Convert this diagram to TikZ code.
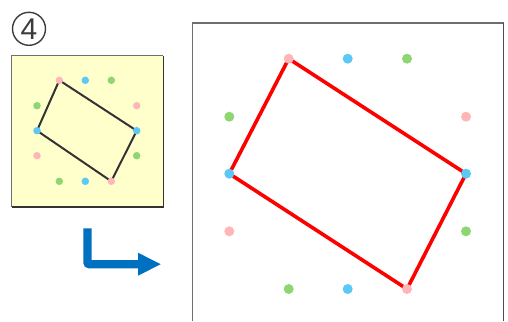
\documentclass[tikz,border=0pt]{standalone}
\usepackage{fontspec}
\newfontfamily\numfont{Liberation Sans}
\definecolor{dpink}{RGB}{255,182,185}
\definecolor{dblue}{RGB}{91,200,245}
\definecolor{dgreen}{RGB}{142,214,114}
\definecolor{pale}{RGB}{255,255,204}
\definecolor{arrowblue}{RGB}{0,112,192}
\definecolor{frame}{RGB}{110,110,110}
\definecolor{numgray}{RGB}{60,60,60}
\tikzset{
  bigdot/.style={circle,inner sep=0pt,minimum size=10pt},
  smalldot/.style={circle,inner sep=0pt,minimum size=7.5pt},
  pk/.style={fill=dpink},
  bl/.style={fill=dblue},
  gr/.style={fill=dgreen},
}
\begin{document}
\begin{tikzpicture}[x=1pt,y=-1pt]
\useasboundingbox (0,0) rectangle (508,321);
% circled number
\node[draw=numgray,line width=1.4pt,circle,minimum size=33pt,inner sep=0pt,
      font=\numfont\fontsize{30}{30}\selectfont,text=numgray] (num) at (29,28.8) {\raisebox{-0.5pt}{4}};
% small panel
\fill[pale] (11.7,56) rectangle (163.3,206.7);
\draw[frame,line width=1pt] (11.7,206.7) -- (11.7,56) -- (163.3,56);
\draw[black!80,line width=1.6pt] (11.7,206.7) -- (163.3,206.7) -- (163.3,56);
\foreach \n/\x/\y in {sa/59.3/80.3, sb/136.7/130.7, sc/111.3/181.3, sd/37/130.7}
  \coordinate (\n) at (\x,\y);
\draw[black!80,line width=2pt,line join=round] (sa) -- (sb) -- (sc) -- (sd) -- cycle;
\node[smalldot,pk] (s1) at (sa) {};
\node[smalldot,bl] (s2) at (85.3,80.3) {};
\node[smalldot,gr] (s3) at (111.3,80.3) {};
\node[smalldot,gr] (s4) at (37,105.7) {};
\node[smalldot,bl] (s5) at (sd) {};
\node[smalldot,pk] (s6) at (37,155.7) {};
\node[smalldot,pk] (s7) at (136.7,105.7) {};
\node[smalldot,bl] (s8) at (sb) {};
\node[smalldot,gr] (s9) at (136.7,155.7) {};
\node[smalldot,gr] (s10) at (59.3,181.3) {};
\node[smalldot,bl] (s11) at (85.3,181.3) {};
\node[smalldot,pk] (s12) at (sc) {};
% arrow
\coordinate (ar0) at (87.5,228.3);
\coordinate (ar1) at (87.5,264.2);
\coordinate (ar2) at (139,264.2);
\draw[arrowblue,line width=8.4pt,rounded corners=2pt] (ar0) -- (ar1) -- (ar2);
\fill[arrowblue] (138,252.7) -- (160.7,264.2) -- (138,275.7) -- cycle;
% big panel
\draw[frame,line width=1.3pt] (192.5,321) -- (192.5,23) -- (503.5,23);
\draw[black!70,line width=1.8pt] (503.5,23) -- (503.5,321);
\foreach \n/\x/\y in {ba/288.7/58.7, bb/466/173.7, bc/407/289, bd/229.3/173.7}
  \coordinate (\n) at (\x,\y);
\draw[red,line width=3.6pt,line join=round] (ba) -- (bb) -- (bc) -- (bd) -- cycle;
\node[bigdot,pk] (b1) at (ba) {};
\node[bigdot,bl] (b2) at (347.7,58.7) {};
\node[bigdot,gr] (b3) at (407,58.7) {};
\node[bigdot,gr] (b4) at (229.3,116.7) {};
\node[bigdot,bl] (b5) at (bd) {};
\node[bigdot,pk] (b6) at (229.3,231.3) {};
\node[bigdot,pk] (b7) at (466,116.7) {};
\node[bigdot,bl] (b8) at (bb) {};
\node[bigdot,gr] (b9) at (466,231.3) {};
\node[bigdot,gr] (b10) at (288.7,289) {};
\node[bigdot,bl] (b11) at (347.7,289) {};
\node[bigdot,pk] (b12) at (bc) {};
\end{tikzpicture}
\end{document}
